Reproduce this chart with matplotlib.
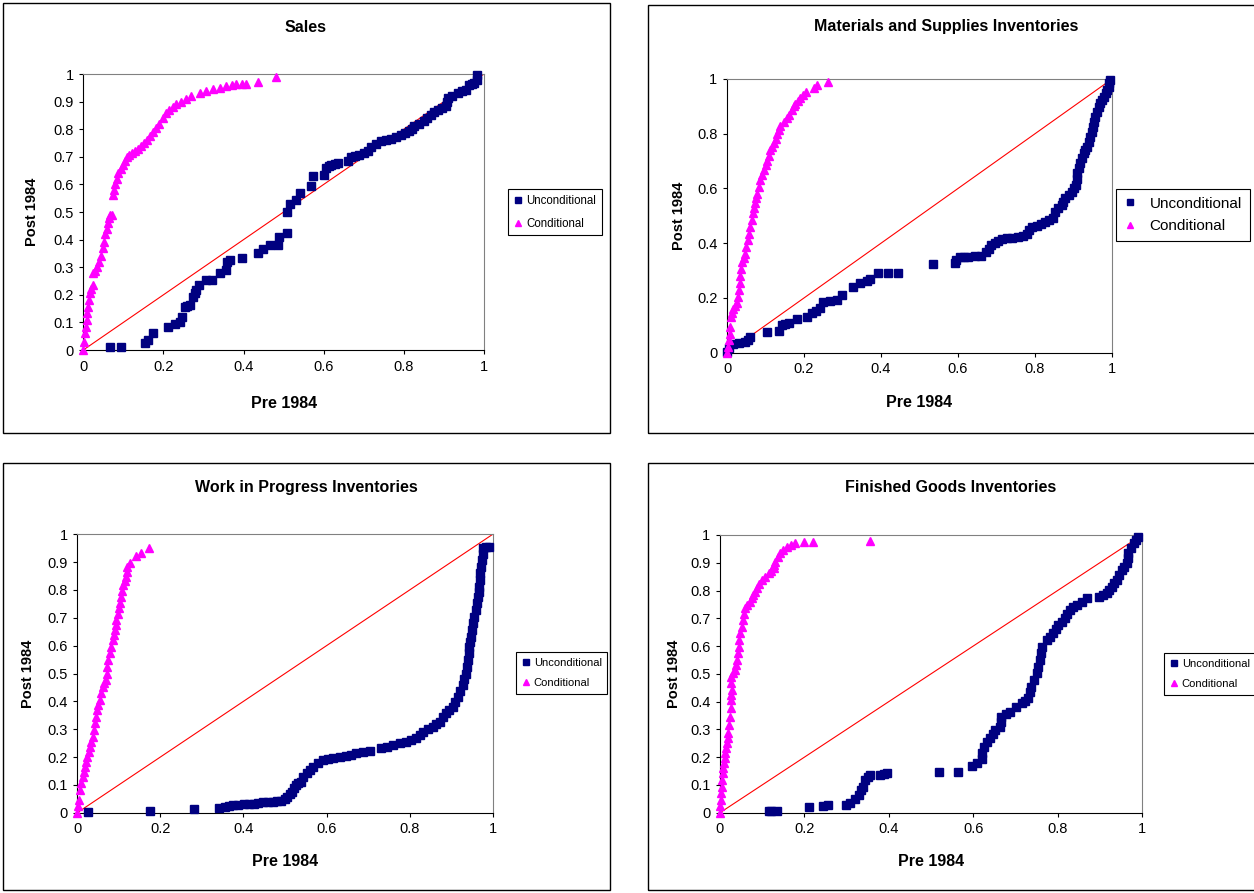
import numpy as np
import matplotlib.pyplot as plt
from matplotlib.patches import Rectangle
from matplotlib.lines import Line2D
from matplotlib.ticker import MultipleLocator, FuncFormatter

plt.rcParams['font.family'] = ['Liberation Sans', 'DejaVu Sans']

W, H = 1254, 893

titles = ['Sales', 'Materials and Supplies Inventories',
          'Work in Progress Inventories', 'Finished Goods Inventories']
series_names = ['Unconditional', 'Conditional']
diag = [0, 1]

# --- Sales ---
sales_unc_x = [0.066, 0.093, 0.155, 0.162, 0.173, 0.212, 0.228, 0.241, 0.247, 0.253,
               0.26, 0.267, 0.274, 0.278, 0.282, 0.289, 0.307, 0.32, 0.34, 0.355,
               0.359, 0.367, 0.397, 0.436, 0.448, 0.466, 0.486, 0.488, 0.508, 0.508,
               0.517, 0.531, 0.541, 0.568, 0.573, 0.6, 0.606, 0.612, 0.618, 0.627,
               0.635, 0.66, 0.668, 0.678, 0.689, 0.70, 0.71, 0.718, 0.73, 0.743,
               0.755, 0.768, 0.78, 0.793, 0.803, 0.813, 0.82, 0.826, 0.838, 0.85,
               0.858, 0.867, 0.875, 0.884, 0.895, 0.905, 0.907, 0.909, 0.92, 0.934,
               0.945, 0.955, 0.963, 0.97, 0.975, 0.983, 0.983]
sales_unc_y = [0.012, 0.012, 0.024, 0.036, 0.06, 0.085, 0.094, 0.103, 0.12, 0.157,
               0.16, 0.163, 0.193, 0.205, 0.218, 0.236, 0.254, 0.254, 0.278, 0.29,
               0.32, 0.326, 0.332, 0.353, 0.365, 0.38, 0.38, 0.41, 0.423, 0.50,
               0.53, 0.544, 0.568, 0.595, 0.63, 0.635, 0.659, 0.665, 0.671, 0.674,
               0.677, 0.683, 0.70, 0.703, 0.707, 0.713, 0.72, 0.735, 0.745, 0.756,
               0.76, 0.764, 0.772, 0.78, 0.786, 0.792, 0.80, 0.813, 0.82, 0.828,
               0.84, 0.853, 0.862, 0.87, 0.877, 0.883, 0.898, 0.913, 0.922, 0.931,
               0.937, 0.943, 0.961, 0.964, 0.967, 0.979, 0.997]
sales_con_x = [0.0, 0.002, 0.004, 0.006, 0.008, 0.010, 0.012, 0.014, 0.017, 0.020,
               0.023, 0.025, 0.030, 0.035, 0.040, 0.044, 0.048, 0.052, 0.055, 0.058,
               0.061, 0.064, 0.066, 0.072, 0.075, 0.077, 0.079, 0.083, 0.087, 0.093,
               0.10, 0.104, 0.108, 0.115, 0.122, 0.129, 0.137, 0.145, 0.152, 0.158,
               0.166, 0.174, 0.182, 0.19, 0.198, 0.207, 0.215, 0.224, 0.232, 0.245,
               0.257, 0.27, 0.29, 0.307, 0.324, 0.34, 0.357, 0.37, 0.38, 0.395,
               0.407, 0.436, 0.48]
sales_con_y = [0.0, 0.03, 0.06, 0.085, 0.11, 0.135, 0.157, 0.18, 0.205, 0.22,
               0.236, 0.278, 0.285, 0.30, 0.32, 0.34, 0.37, 0.39, 0.42, 0.44,
               0.46, 0.48, 0.49, 0.49, 0.56, 0.58, 0.60, 0.62, 0.64, 0.655,
               0.67, 0.685, 0.70, 0.705, 0.715, 0.72, 0.73, 0.74, 0.75, 0.76,
               0.775, 0.79, 0.805, 0.82, 0.84, 0.86, 0.87, 0.88, 0.89, 0.90,
               0.91, 0.92, 0.93, 0.94, 0.946, 0.95, 0.955, 0.96, 0.964, 0.964,
               0.964, 0.97, 0.99]

# --- Materials and Supplies ---
mat_unc_x = [0.0, 0.004, 0.015, 0.03, 0.047, 0.055, 0.06, 0.104, 0.134, 0.142,
             0.15, 0.16, 0.181, 0.209, 0.22, 0.232, 0.242, 0.25, 0.268, 0.285,
             0.298, 0.328, 0.345, 0.363, 0.371, 0.393, 0.419, 0.445, 0.535, 0.591,
             0.595, 0.604, 0.615, 0.626, 0.645, 0.661, 0.674, 0.68, 0.687, 0.695,
             0.704, 0.715, 0.726, 0.74, 0.757, 0.768, 0.778, 0.785, 0.791, 0.804,
             0.815, 0.826, 0.837, 0.848, 0.852, 0.86, 0.87, 0.874, 0.878, 0.888,
             0.896, 0.902, 0.907, 0.908, 0.909, 0.913, 0.917, 0.921, 0.926, 0.93,
             0.935, 0.939, 0.943, 0.947, 0.95, 0.953, 0.957, 0.961, 0.965, 0.969,
             0.974, 0.98, 0.985, 0.988, 0.991, 0.993, 0.994]
mat_unc_y = [0.004, 0.016, 0.03, 0.034, 0.038, 0.045, 0.056, 0.077, 0.079, 0.10,
             0.105, 0.11, 0.122, 0.132, 0.144, 0.152, 0.162, 0.186, 0.19, 0.192,
             0.21, 0.241, 0.253, 0.262, 0.27, 0.29, 0.293, 0.293, 0.323, 0.326,
             0.34, 0.348, 0.35, 0.351, 0.352, 0.353, 0.369, 0.38, 0.393, 0.40,
             0.409, 0.414, 0.418, 0.42, 0.421, 0.428, 0.434, 0.447, 0.46, 0.463,
             0.47, 0.479, 0.485, 0.491, 0.515, 0.527, 0.54, 0.552, 0.564, 0.576,
             0.588, 0.60, 0.613, 0.634, 0.655, 0.673, 0.692, 0.71, 0.728, 0.74,
             0.753, 0.771, 0.789, 0.807, 0.826, 0.844, 0.862, 0.88, 0.899, 0.911,
             0.923, 0.935, 0.948, 0.96, 0.972, 0.984, 0.996]
mat_con_x = [0.0, 0.002, 0.004, 0.007, 0.009, 0.011, 0.013, 0.015, 0.02, 0.026,
             0.028, 0.03, 0.033, 0.035, 0.037, 0.039, 0.043, 0.047, 0.05, 0.054,
             0.057, 0.06, 0.064, 0.067, 0.07, 0.073, 0.076, 0.079, 0.083, 0.086,
             0.09, 0.095, 0.10, 0.105, 0.108, 0.112, 0.117, 0.121, 0.126, 0.13,
             0.134, 0.138, 0.147, 0.155, 0.162, 0.168, 0.173, 0.177, 0.184, 0.19,
             0.197, 0.204, 0.225, 0.233, 0.262]
mat_con_y = [0.0, 0.02, 0.046, 0.07, 0.095, 0.13, 0.145, 0.16, 0.17, 0.18,
             0.205, 0.23, 0.255, 0.28, 0.305, 0.33, 0.345, 0.36, 0.385, 0.41,
             0.435, 0.46, 0.485, 0.51, 0.53, 0.546, 0.565, 0.58, 0.605, 0.63,
             0.65, 0.667, 0.685, 0.70, 0.72, 0.74, 0.753, 0.765, 0.78, 0.80,
             0.815, 0.83, 0.843, 0.856, 0.87, 0.887, 0.90, 0.91, 0.92, 0.93,
             0.942, 0.954, 0.966, 0.978, 0.99]

# --- Work in Progress ---
wip_unc_x = [0.026, 0.176, 0.28, 0.342, 0.355, 0.366, 0.376, 0.386, 0.402, 0.414,
             0.426, 0.436, 0.446, 0.458, 0.47, 0.48, 0.49, 0.499, 0.506, 0.512,
             0.518, 0.522, 0.526, 0.532, 0.538, 0.544, 0.552, 0.56, 0.568, 0.58,
             0.592, 0.604, 0.616, 0.632, 0.648, 0.66, 0.672, 0.688, 0.704, 0.732,
             0.746, 0.76, 0.776, 0.792, 0.804, 0.816, 0.824, 0.832, 0.844, 0.856,
             0.864, 0.872, 0.88, 0.888, 0.896, 0.904, 0.91, 0.916, 0.922, 0.928,
             0.932, 0.936, 0.938, 0.94, 0.942, 0.944, 0.946, 0.948, 0.95, 0.952,
             0.956, 0.959, 0.962, 0.964, 0.966, 0.967, 0.969, 0.97, 0.973, 0.975,
             0.976, 0.976, 0.984, 0.991]
wip_unc_y = [0.004, 0.007, 0.012, 0.016, 0.02, 0.024, 0.026, 0.028, 0.03, 0.03,
             0.031, 0.034, 0.037, 0.038, 0.04, 0.041, 0.043, 0.05, 0.057, 0.066,
             0.075, 0.087, 0.099, 0.105, 0.111, 0.129, 0.141, 0.153, 0.165, 0.177,
             0.189, 0.194, 0.198, 0.20, 0.203, 0.208, 0.213, 0.218, 0.223, 0.231,
             0.237, 0.243, 0.249, 0.255, 0.261, 0.267, 0.279, 0.291, 0.30, 0.309,
             0.318, 0.327, 0.342, 0.357, 0.369, 0.381, 0.399, 0.417, 0.437, 0.458,
             0.479, 0.50, 0.524, 0.548, 0.572, 0.596, 0.614, 0.632, 0.656, 0.68,
             0.704, 0.728, 0.752, 0.776, 0.794, 0.812, 0.836, 0.86, 0.884, 0.908,
             0.93, 0.95, 0.953, 0.956]
wip_con_x = [0.0, 0.002, 0.003, 0.006, 0.01, 0.013, 0.016, 0.018, 0.021, 0.024,
             0.027, 0.03, 0.034, 0.037, 0.04, 0.042, 0.045, 0.048, 0.051, 0.054,
             0.058, 0.061, 0.065, 0.069, 0.071, 0.072, 0.075, 0.078, 0.082, 0.085,
             0.088, 0.09, 0.092, 0.094, 0.097, 0.10, 0.103, 0.106, 0.108, 0.11,
             0.114, 0.117, 0.119, 0.12, 0.128, 0.142, 0.154, 0.173]
wip_con_y = [0.0, 0.025, 0.046, 0.081, 0.105, 0.129, 0.147, 0.165, 0.183, 0.201,
             0.219, 0.237, 0.255, 0.273, 0.297, 0.321, 0.345, 0.369, 0.387, 0.405,
             0.429, 0.453, 0.465, 0.477, 0.50, 0.525, 0.548, 0.572, 0.596, 0.62,
             0.638, 0.656, 0.674, 0.692, 0.713, 0.734, 0.755, 0.776, 0.797, 0.818,
             0.833, 0.848, 0.866, 0.884, 0.896, 0.922, 0.932, 0.952]

# --- Finished Goods ---
fin_unc_x = [0.115, 0.122, 0.135, 0.212, 0.244, 0.257, 0.299, 0.309, 0.32, 0.329,
             0.334, 0.338, 0.344, 0.35, 0.356, 0.38, 0.388, 0.396, 0.519, 0.564,
             0.596, 0.608, 0.62, 0.622, 0.625, 0.632, 0.64, 0.646, 0.651, 0.663,
             0.665, 0.667, 0.677, 0.687, 0.701, 0.715, 0.722, 0.73, 0.734, 0.738,
             0.744, 0.75, 0.754, 0.758, 0.761, 0.764, 0.774, 0.782, 0.79, 0.796,
             0.802, 0.81, 0.817, 0.823, 0.829, 0.837, 0.845, 0.857, 0.869, 0.899,
             0.908, 0.916, 0.922, 0.928, 0.934, 0.94, 0.946, 0.952, 0.958, 0.964,
             0.966, 0.968, 0.974, 0.98, 0.986, 0.991]
fin_unc_y = [0.007, 0.007, 0.007, 0.022, 0.024, 0.028, 0.028, 0.036, 0.05, 0.064,
             0.08, 0.094, 0.118, 0.127, 0.136, 0.136, 0.14, 0.144, 0.148, 0.148,
             0.169, 0.18, 0.192, 0.215, 0.238, 0.253, 0.268, 0.283, 0.298, 0.31,
             0.328, 0.346, 0.355, 0.364, 0.379, 0.394, 0.403, 0.412, 0.433, 0.454,
             0.478, 0.502, 0.526, 0.55, 0.574, 0.598, 0.622, 0.634, 0.646, 0.661,
             0.676, 0.688, 0.70, 0.715, 0.73, 0.739, 0.748, 0.76, 0.772, 0.778,
             0.784, 0.79, 0.802, 0.814, 0.826, 0.838, 0.856, 0.874, 0.886, 0.898,
             0.916, 0.934, 0.952, 0.97, 0.982, 0.994]
fin_con_x = [0.0, 0.001, 0.002, 0.003, 0.004, 0.005, 0.006, 0.008, 0.01, 0.011,
             0.012, 0.014, 0.016, 0.018, 0.02, 0.022, 0.024, 0.025, 0.025, 0.027,
             0.028, 0.027, 0.026, 0.031, 0.036, 0.038, 0.04, 0.042, 0.044, 0.046,
             0.048, 0.051, 0.054, 0.056, 0.059, 0.064, 0.07, 0.075, 0.079, 0.083,
             0.087, 0.093, 0.099, 0.107, 0.115, 0.121, 0.127, 0.129, 0.131, 0.137,
             0.143, 0.15, 0.158, 0.168, 0.178, 0.198, 0.22, 0.355]
fin_con_y = [0.0, 0.023, 0.046, 0.07, 0.094, 0.118, 0.142, 0.16, 0.178, 0.196,
             0.214, 0.232, 0.25, 0.268, 0.286, 0.316, 0.346, 0.376, 0.406, 0.424,
             0.442, 0.466, 0.49, 0.502, 0.514, 0.532, 0.55, 0.574, 0.598, 0.622,
             0.646, 0.67, 0.694, 0.715, 0.736, 0.748, 0.76, 0.772, 0.784, 0.796,
             0.808, 0.823, 0.838, 0.85, 0.862, 0.871, 0.88, 0.892, 0.904, 0.919,
             0.934, 0.946, 0.958, 0.964, 0.97, 0.974, 0.974, 0.978]

NAVY = '#000080'
MAGENTA = '#FF00FF'


def fx(px):
    return px / W


def fy(py):
    return 1 - py / H


fig = plt.figure(figsize=(W / 100, H / 100), dpi=100)


def panel(box, plot, title_xy, ystep, xlab_y, ylab_x, ux, uy, cx, cy,
          leg_xy, leg_fs, leg_sp, leg_pad, leg_tpad):
    # chart border
    x0, y0, x1, y1 = box
    fig.patches.append(Rectangle((fx(x0), fy(y1)), fx(x1 - x0), (y1 - y0) / H,
                                 transform=fig.transFigure, fill=False,
                                 edgecolor='black', lw=1.0))
    fig.text(fx(title_xy[0]), fy(title_xy[1]), title_xy[2], ha='center',
             va='center', fontsize=11.5, fontweight='bold')

    l, t, r, b = plot
    ax = fig.add_axes([fx(l), fy(b), fx(r - l), (b - t) / H])
    ax.plot(diag, diag, color='red', lw=0.8, zorder=2)
    ax.plot(ux, uy, 's', color=NAVY, ms=6.3, mec=NAVY, clip_on=False, zorder=3)
    ax.plot(cx, cy, '^', color=MAGENTA, ms=6.3, mec=MAGENTA, clip_on=False, zorder=4)
    ax.set_xlim(0, 1)
    ax.set_ylim(0, 1)
    ax.xaxis.set_major_locator(MultipleLocator(0.2))
    ax.yaxis.set_major_locator(MultipleLocator(ystep))
    fmt = FuncFormatter(lambda v, p: '{:g}'.format(round(v, 2)))
    ax.xaxis.set_major_formatter(fmt)
    ax.yaxis.set_major_formatter(fmt)
    ax.tick_params(direction='out', length=3, width=0.8, pad=4, labelsize=10.5)
    for s in ['top', 'right']:
        ax.spines[s].set_color('#808080')
    for s in ['left', 'bottom']:
        ax.spines[s].set_color('black')
    ax.set_xlabel('Pre 1984', fontsize=11.5, fontweight='bold')
    ax.set_ylabel('Post 1984', fontsize=10.5, fontweight='bold')
    ax.xaxis.set_label_coords(0.5, (b - xlab_y) / (b - t))
    ax.yaxis.set_label_coords((ylab_x - l) / (r - l), 0.5)
    ax.xaxis.label.set_va('center')
    ax.yaxis.label.set_va('center')

    handles = [Line2D([], [], ls='none', marker='s', color=NAVY, ms=5),
               Line2D([], [], ls='none', marker='^', color=MAGENTA, ms=5)]
    leg = fig.legend(handles, series_names, loc='upper left',
                     bbox_to_anchor=(fx(leg_xy[0]), fy(leg_xy[1])),
                     bbox_transform=fig.transFigure, fontsize=leg_fs,
                     frameon=True, fancybox=False, framealpha=1,
                     edgecolor='black', handlelength=0.8, handletextpad=leg_tpad,
                     borderpad=leg_pad, labelspacing=leg_sp, borderaxespad=0)
    leg.get_frame().set_linewidth(0.8)
    return ax


panel((3, 3, 610, 433), (83.3, 74, 484, 350), (306, 27, titles[0]), 0.1,
      403, 32, sales_unc_x, sales_unc_y, sales_con_x, sales_con_y,
      (508, 189), 8.3, 0.95, 0.5, 0.3)
panel((648, 5, 1300, 433), (727, 79, 1112, 352.7), (946, 27, titles[1]), 0.2,
      403, 679, mat_unc_x, mat_unc_y, mat_con_x, mat_con_y,
      (1116, 189), 11, 0.55, 0.5, 0.9)
panel((3, 463, 610, 890), (77.3, 534.3, 492.7, 812.7), (306, 488, titles[2]), 0.1,
      862, 28, wip_unc_x, wip_unc_y, wip_con_x, wip_con_y,
      (516, 652), 8, 0.95, 0.5, 0.3)
panel((648, 463, 1300, 890), (720, 535, 1142, 812.7), (951, 488, titles[3]), 0.1,
      862, 674, fin_unc_x, fin_unc_y, fin_con_x, fin_con_y,
      (1164, 653), 8, 0.95, 0.5, 0.3)

fig.savefig('out.png', dpi=100)
